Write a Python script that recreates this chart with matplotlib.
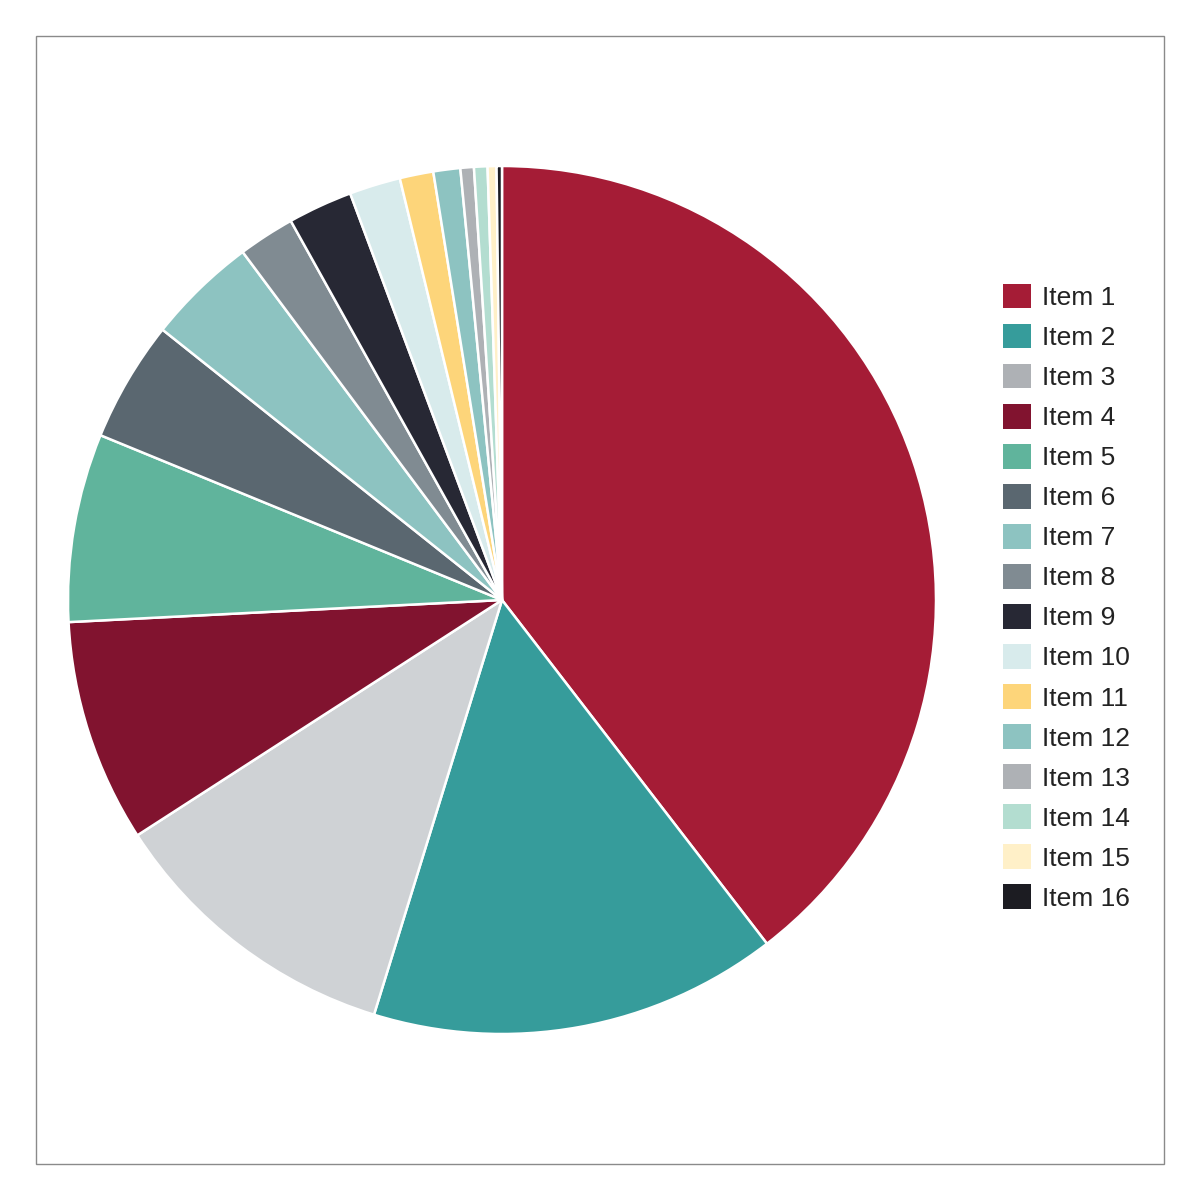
import matplotlib
matplotlib.use("Agg")
import matplotlib.pyplot as plt
from matplotlib.patches import Patch, Rectangle

labels = [f"Item {i}" for i in range(1, 17)]
values = [39.5, 15.2, 11.1, 8.3, 7.0, 4.5, 4.1, 2.1, 2.4, 1.9, 1.25, 1.0, 0.5, 0.5, 0.33, 0.2]
slice_colors = ["#A51C36", "#369C9B", "#CFD2D5", "#81132F", "#60B49C", "#5A6770",
                "#8DC3C1", "#808B92", "#272834", "#D8EBEC", "#FDD57A", "#8DC3C1",
                "#AEB1B5", "#B3DDD0", "#FFF0C8", "#1C1C22"]
legend_colors = slice_colors.copy()
legend_colors[2] = "#AEB1B5"

plt.rcParams["font.family"] = ["Liberation Sans", "DejaVu Sans"]

fig = plt.figure(figsize=(12, 12), dpi=100)
fig.patches.append(Rectangle((36 / 1200, 36 / 1200), 1128 / 1200, 1128 / 1200,
                             transform=fig.transFigure, fill=False,
                             edgecolor="#8a8a8a", linewidth=1.0))

ax = fig.add_axes([68 / 1200, 166 / 1200, 868 / 1200, 868 / 1200])
ax.pie(values, colors=slice_colors, startangle=90, counterclock=False,
       wedgeprops=dict(edgecolor="white", linewidth=1.8))
ax.set_xlim(-1, 1); ax.set_ylim(-1, 1)
ax.set_aspect("equal")
ax.axis("off")

handles = [Patch(facecolor=c, edgecolor="none") for c in legend_colors]
fig.legend(handles, labels, loc="upper left", bbox_to_anchor=(979 / 1200, 1 - 260 / 1200),
           frameon=False, fontsize=19, handlelength=1.06, handleheight=1.06,
           labelspacing=0.52, handletextpad=0.42, labelcolor="#222222")

fig.savefig("out.png", dpi=100, facecolor="white")
